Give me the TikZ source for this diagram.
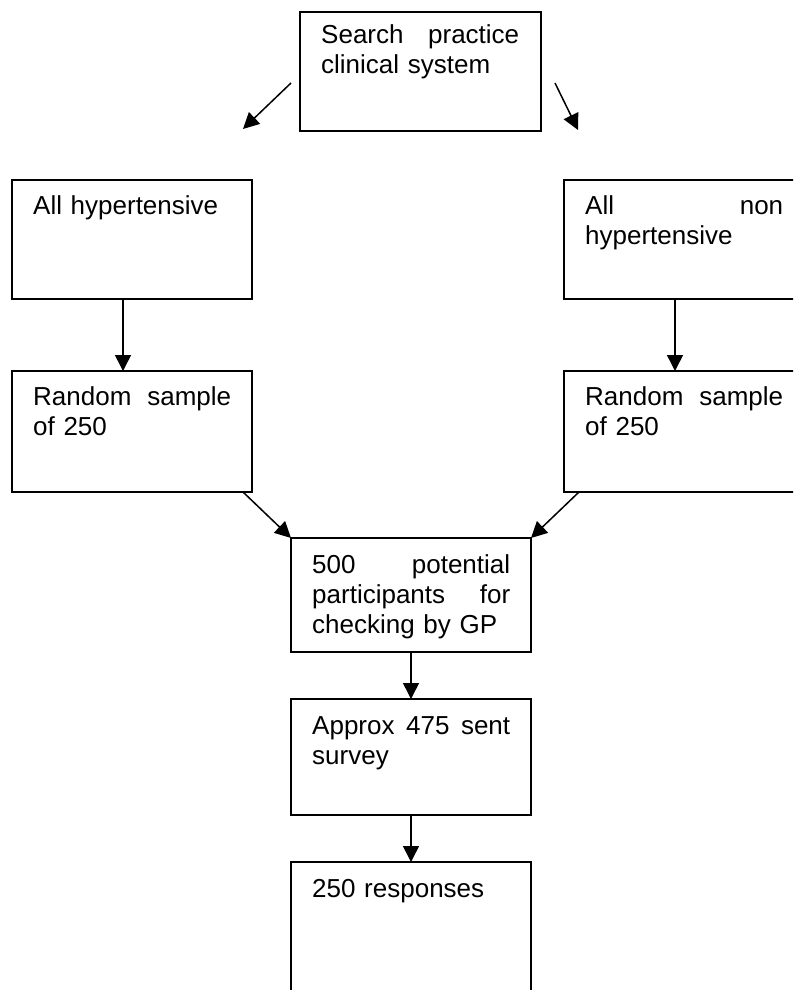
\documentclass[tikz,border=0pt]{standalone}
\usepackage{fontspec}
\setmainfont{Liberation Sans}
\usetikzlibrary{arrows.meta}
\begin{document}
\begin{tikzpicture}[x=1pt,y=-1pt,
  box/.style={draw, line width=1.6pt, inner sep=0pt, outer sep=0pt,
    anchor=north west, minimum width=240pt},
  txt/.style={anchor=base west, inner sep=0pt, text width=198pt, align=left,
    font=\fontsize{26}{30}\selectfont},
  link/.style={line width=1.5pt, -{Triangle[length=16pt,width=16pt]}}]
\useasboundingbox (0,0) rectangle (793,990);
\clip (0,0) rectangle (793,990);

% boxes
\node[box, minimum width=241pt, minimum height=119pt] (search) at (300,12) {};
\node[box, minimum height=119pt] (hyp)  at (12,180) {};
\node[box, minimum height=121pt] (hypS) at (12,371) {};
\node[box, minimum height=119pt] (non)  at (564,180) {};
\node[box, minimum height=121pt] (nonS) at (564,371) {};
\node[box, minimum height=114pt] (part) at (291,538) {};
\node[box, minimum height=116pt] (sent) at (291,699) {};
\node[box, minimum height=140pt] (resp) at (291,862) {};

% box texts
\node[txt] (searchT) at ([shift={(21,32)}]search.north west) {Search\hfill practice\\clinical system};
\node[txt] (hypT)  at ([shift={(21,34)}]hyp.north west)  {All hypertensive};
\node[txt] (hypST) at ([shift={(21,34)}]hypS.north west) {Random\hfill sample\\of 250};
\node[txt] (nonT)  at ([shift={(21,34)}]non.north west)  {All\hfill non\\hypertensive};
\node[txt] (nonST) at ([shift={(21,34)}]nonS.north west) {Random\hfill sample\\of 250};
\node[txt] (partT) at ([shift={(21,35)}]part.north west) {500\hfill potential\\participants\hfill for\\checking by GP};
\node[txt] (sentT) at ([shift={(21,35)}]sent.north west) {Approx\hfill 475\hfill sent\\survey};
\node[txt] (respT) at ([shift={(21,35)}]resp.north west) {250 responses};

% free arrows beside the first box
\coordinate (lA) at (291,83);
\coordinate (lB) at (243,129);
\coordinate (rA) at (555,83);
\coordinate (rB) at (578,130);
\draw[link] (lA) -- (lB);
\draw[link] (rA) -- (rB);

% flow arrows
\draw[link] ([xshift=-9pt]hyp.south) -- ([xshift=-9pt]hypS.north);
\draw[link] ([xshift=-9pt]non.south) -- ([xshift=-9pt]nonS.north);
\draw[link] ([xshift=-9pt]hypS.south east) -- (part.north west);
\draw[link] ([xshift=15pt]nonS.south west) -- (part.north east);
\draw[link] (part.south) -- (sent.north);
\draw[link] (sent.south) -- (resp.north);
\end{tikzpicture}
\end{document}
